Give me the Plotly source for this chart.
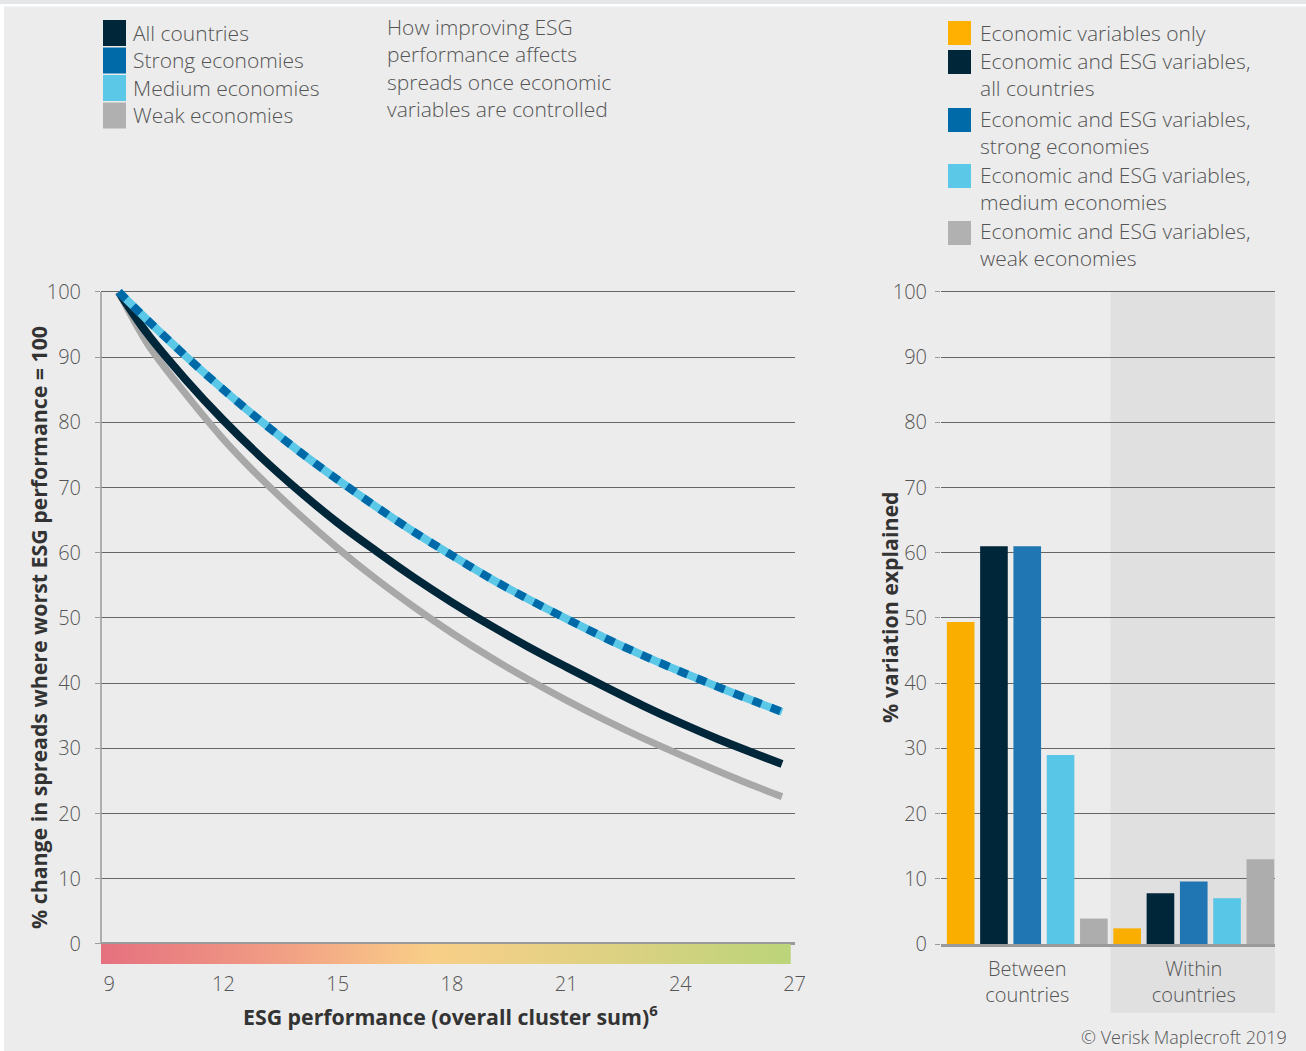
import plotly.graph_objects as go

W, H = 1306, 1051

# ---- Left panel: spread index vs ESG performance ----
esg_score = [9.25, 10, 11, 12, 13, 14, 15, 16, 17, 18, 19, 20, 21, 22, 23, 24, 25, 26, 26.67]
spread_all = [100, 93.6, 86.6, 80.3, 74.6, 69.4, 64.6, 60.3, 56.2, 52.4, 48.9, 45.6,
              42.5, 39.5, 36.6, 33.9, 31.4, 29.1, 27.6]
spread_strong = [100, 95.7, 90.2, 85.0, 80.1, 75.5, 71.2, 67.1, 63.2, 59.6, 56.1, 52.9,
                 49.9, 47.0, 44.3, 41.8, 39.4, 37.1, 35.6]
spread_medium = [100, 95.7, 90.2, 85.0, 80.1, 75.5, 71.2, 67.1, 63.2, 59.6, 56.1, 52.9,
                 49.9, 47.0, 44.3, 41.8, 39.4, 37.1, 35.6]
spread_weak = [100, 92.1, 84.4, 77.4, 71.3, 65.8, 60.7, 56.0, 51.7, 47.7, 44.0, 40.6,
               37.4, 34.4, 31.6, 29.0, 26.5, 24.1, 22.6]

x_ticks = [9, 12, 15, 18, 21, 24, 27]
y_ticks = [0, 10, 20, 30, 40, 50, 60, 70, 80, 90, 100]

line_legend = ["All countries", "Strong economies", "Medium economies", "Weak economies"]
line_colors = ["#00263a", "#0069a8", "#5bc8e8", "#b0b0b0"]

# ---- Right panel: % variation explained ----
bar_groups = ["Between<br>countries", "Within<br>countries"]
econ_only = [49.4, 2.4]
esg_all = [61.0, 7.8]
esg_strong = [61.0, 9.6]
esg_medium = [29.0, 7.0]
esg_weak = [3.9, 13.0]

bar_legend = ["Economic variables only",
              "Economic and ESG variables,<br>all countries",
              "Economic and ESG variables,<br>strong economies",
              "Economic and ESG variables,<br>medium economies",
              "Economic and ESG variables,<br>weak economies"]
bar_legend_colors = ["#ffb000", "#00263a", "#0069a8", "#5bc8e8", "#b1b1b1"]
bar_colors = ["#f9ae00", "#00263a", "#1f76b2", "#58c6e6", "#adadad"]

note_text = ("How improving ESG<br>performance affects<br>"
             "spreads once economic<br>variables are controlled")

BG = "#ececec"
GRID = "#666666"
BASE = "#9a9a9a"
TXT = "#555555"
DARK = "#333333"
FONT = "Open Sans"


def px(x):
    return x / W


def py(y):
    return 1 - y / H


x_lo, x_hi = 8.782, 27.02
bar_end = 26.9
y_lo, y_hi = -3.07, 100.5

fig = go.Figure()

# gradient colour band under the ESG axis
fig.add_trace(go.Scatter(
    x=[x_lo, bar_end, bar_end, x_lo, x_lo], y=[0, 0, y_lo, y_lo, 0],
    mode="lines", line=dict(width=0), fill="toself",
    fillgradient=dict(type="horizontal",
                      colorscale=[[0, "#e5707f"], [0.25, "#f19c84"], [0.48, "#f9cf88"],
                                  [0.75, "#dcd182"], [1, "#bbd47a"]]),
    hoverinfo="skip", showlegend=False, xaxis="x", yaxis="y"))

# curves: weak, all, medium (solid) and strong (dashed on top of medium)
fig.add_trace(go.Scatter(x=esg_score, y=spread_weak, mode="lines", name=line_legend[3],
                         line=dict(color="#a8a8a8", width=7, shape="spline"),
                         showlegend=False, xaxis="x", yaxis="y"))
fig.add_trace(go.Scatter(x=esg_score, y=spread_all, mode="lines", name=line_legend[0],
                         line=dict(color=line_colors[0], width=8, shape="spline"),
                         showlegend=False, xaxis="x", yaxis="y"))
fig.add_trace(go.Scatter(x=esg_score, y=spread_medium, mode="lines", name=line_legend[2],
                         line=dict(color=line_colors[2], width=8, shape="spline"),
                         showlegend=False, xaxis="x", yaxis="y"))
fig.add_trace(go.Scatter(x=esg_score, y=spread_strong, mode="lines", name=line_legend[1],
                         line=dict(color=line_colors[1], width=8, shape="spline",
                                   dash="10px,10px"),
                         showlegend=False, xaxis="x", yaxis="y"))

# grouped bars
for vals, name, col in zip([econ_only, esg_all, esg_strong, esg_medium, esg_weak],
                           bar_legend, bar_colors):
    fig.add_trace(go.Bar(x=bar_groups, y=vals, name=name.replace("<br>", " "),
                         marker=dict(color=col, line=dict(width=0)),
                         showlegend=False, xaxis="x2", yaxis="y2"))

tick_font = dict(family=FONT, size=20, color=TXT, weight=300)

shapes = []
annotations = []

# frame details along the top and left edges
shapes.append(dict(type="rect", xref="paper", yref="paper", x0=0, x1=1, y0=py(4), y1=1,
                   fillcolor="#e5e6e8", line=dict(width=0), layer="below"))
shapes.append(dict(type="rect", xref="paper", yref="paper", x0=0, x1=1, y0=py(6.5), y1=py(4),
                   fillcolor="white", line=dict(width=0), layer="below"))
shapes.append(dict(type="rect", xref="paper", yref="paper", x0=0, x1=px(4), y0=0, y1=py(4),
                   fillcolor="white", line=dict(width=0), layer="below"))

# shaded "within countries" band
shapes.append(dict(type="rect", xref="x2", yref="paper", x0=0.5, x1=1.6,
                   y0=py(1013), y1=py(292), fillcolor="#e0e0e0",
                   line=dict(width=0), layer="below"))

# left vertical axis line from 0 to 100
shapes.append(dict(type="line", xref="x domain", yref="y", x0=0, x1=0, y0=0, y1=100,
                   line=dict(color=BASE, width=1.5)))

# left legend
left_centres = [33, 60.5, 88, 115.5]
for name, col, c in zip(line_legend, line_colors, left_centres):
    shapes.append(dict(type="rect", xref="paper", yref="paper",
                       x0=px(103), x1=px(126), y0=py(c + 13), y1=py(c - 13),
                       fillcolor=col, line=dict(width=0)))
    annotations.append(dict(text=name, xref="paper", yref="paper", x=px(131), y=py(c),
                            xanchor="left", yanchor="middle", showarrow=False,
                            font=dict(family=FONT, size=21, color=TXT, weight=300)))

annotations.append(dict(text=note_text, xref="paper", yref="paper", x=px(385), y=py(68),
                        xanchor="left", yanchor="middle", align="left", showarrow=False,
                        font=dict(family=FONT, size=21, color=TXT, weight=300)))

# right legend
sq_centres = [33, 62, 120, 176, 233]
txt_centres = [33, 75, 132.5, 188.5, 245]
for name, col, sc, tc in zip(bar_legend, bar_legend_colors, sq_centres, txt_centres):
    shapes.append(dict(type="rect", xref="paper", yref="paper",
                       x0=px(948), x1=px(971), y0=py(sc + 12), y1=py(sc - 12),
                       fillcolor=col, line=dict(width=0)))
    annotations.append(dict(text=name, xref="paper", yref="paper", x=px(978), y=py(tc),
                            xanchor="left", yanchor="middle", align="left", showarrow=False,
                            font=dict(family=FONT, size=21, color=TXT, weight=300)))

# axis titles
bold = dict(family=FONT, size=21.3, color=DARK, weight=700)
annotations.append(dict(text="ESG performance (overall cluster sum)<sup>6</sup>",
                        xref="paper", yref="paper", x=px(450), y=py(1015),
                        xanchor="center", yanchor="middle", showarrow=False, font=bold))
annotations.append(dict(text="% change in spreads where worst ESG performance = 100",
                        xref="paper", yref="paper", x=px(38), y=py(628), textangle=-90,
                        xanchor="center", yanchor="middle", showarrow=False, font=bold))
annotations.append(dict(text="% variation explained",
                        xref="paper", yref="paper", x=px(889), y=py(608), textangle=-90,
                        xanchor="center", yanchor="middle", showarrow=False, font=bold))

annotations.append(dict(text="© Verisk Maplecroft 2019", xref="paper", yref="paper",
                        x=px(1289), y=py(1037), xanchor="right", yanchor="middle",
                        showarrow=False,
                        font=dict(family=FONT, size=18, color=TXT, weight=300)))

fig.update_layout(
    template="none",
    width=W, height=H, autosize=False,
    margin=dict(l=0, r=0, t=0, b=0, pad=0, autoexpand=False),
    paper_bgcolor=BG, plot_bgcolor="rgba(0,0,0,0)",
    barmode="group", bargap=0.0, bargroupgap=0.17,
    shapes=shapes, annotations=annotations,
    xaxis=dict(domain=[px(101), px(101 + (x_hi - x_lo) * 38.07)], range=[x_lo, x_hi],
               tickvals=x_ticks, ticks="", showgrid=False, zeroline=False, showline=False,
               tickfont=tick_font, ticklabelstandoff=6, anchor="y", automargin=False),
    yaxis=dict(domain=[py(964), py(288.7)], range=[y_lo, y_hi], tickvals=y_ticks,
               ticks="outside", ticklen=5, tickcolor=BASE, showgrid=True, gridcolor=GRID,
               gridwidth=1, zeroline=True, zerolinecolor=BASE, zerolinewidth=2.5,
               showline=False, tickfont=tick_font, ticklabelstandoff=10, anchor="x",
               automargin=False),
    xaxis2=dict(domain=[px(941), px(1275)], range=[-0.518, 1.488], type="category",
                ticks="", showgrid=False, zeroline=False, showline=True, linecolor=BASE,
                linewidth=2.5, tickfont=tick_font, ticklabelstandoff=5, anchor="y2",
                automargin=False),
    yaxis2=dict(domain=[py(944), py(288.7)], range=[0, y_hi], tickvals=y_ticks,
                ticks="outside", ticklen=5, tickcolor=BASE, showgrid=True, gridcolor=GRID,
                gridwidth=1, zeroline=False, showline=False, tickfont=tick_font,
                ticklabelstandoff=4, anchor="x2", automargin=False),
)

# page body without default margin so the figure sits flush in the window
fig.write_html("out.html",
               post_script="document.body.style.margin='0';"
                           "document.body.style.overflow='hidden';")
